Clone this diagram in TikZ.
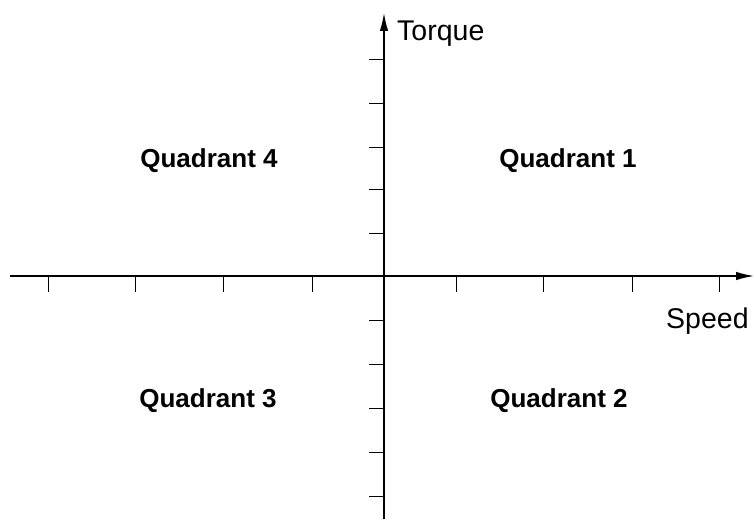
\documentclass[tikz,border=0pt]{standalone}
\usepackage{fontspec}
\setmainfont{Liberation Sans}
\usetikzlibrary{arrows.meta}

\begin{document}
\begin{tikzpicture}[x=1pt,y=-1pt,
  axis/.style={line width=1.4pt,-{Latex[length=18pt,width=8.5pt]}},
  tick/.style={line width=0.9pt},
  lab/.style={inner sep=0pt,font=\fontsize{28.5}{30}\selectfont},
  quad/.style={inner sep=0pt,anchor=base,font=\fontsize{26}{28}\selectfont\bfseries}]
  \useasboundingbox (0,0) rectangle (754,519);
  % axes
  \coordinate (xl) at (10,276); \coordinate (xr) at (754,276);
  \coordinate (yb) at (384,519); \coordinate (yt) at (384,13);
  \draw[axis] (xl)--(xr);
  \draw[axis] (yb)--(yt);
  % ticks
  \foreach \x in {48,135,223,312,456,543,632,719}
    \draw[tick] (\x,277)--(\x,292);
  \foreach \y in {59,103,147,189,233,320,364,408,452,496}
    \draw[tick] (369,\y)--(383,\y);
  % labels
  \node[lab,anchor=base west] (torque) at (397,41) {Torque};
  \node[lab,anchor=base west] (speed) at (666,328) {Speed};
  \node[quad] (q4) at (209,167) {Quadrant 4};
  \node[quad] (q1) at (568,167) {Quadrant 1};
  \node[quad] (q3) at (208,407) {Quadrant 3};
  \node[quad] (q2) at (559,407) {Quadrant 2};
\end{tikzpicture}
\end{document}
